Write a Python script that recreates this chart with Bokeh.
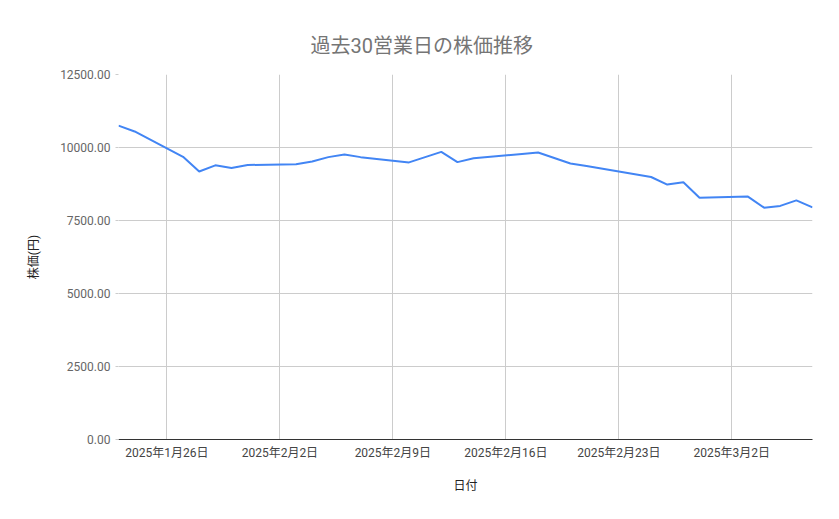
import pandas as pd
from bokeh.plotting import figure
from bokeh.models import Range1d, FixedTicker, CustomJSTickFormatter, NumeralTickFormatter
from bokeh.embed import file_html
from bokeh.resources import INLINE

# 過去30営業日の終値（祝日 2/11, 2/24 を除く）
dates = ["2025-01-23", "2025-01-24", "2025-01-27", "2025-01-28", "2025-01-29", "2025-01-30", "2025-01-31",
         "2025-02-03", "2025-02-04", "2025-02-05", "2025-02-06", "2025-02-07",
         "2025-02-10", "2025-02-12", "2025-02-13", "2025-02-14",
         "2025-02-17", "2025-02-18", "2025-02-19", "2025-02-20", "2025-02-21",
         "2025-02-25", "2025-02-26", "2025-02-27", "2025-02-28",
         "2025-03-03", "2025-03-04", "2025-03-05", "2025-03-06", "2025-03-07"]
prices = [10750, 10550, 9680, 9180, 9390, 9300, 9400,
          9430, 9520, 9670, 9760, 9670,
          9490, 9850, 9500, 9630,
          9780, 9830, 9640, 9450, 9370,
          8990, 8730, 8810, 8280,
          8320, 7940, 8000, 8190, 7950]

week_ticks = ["2025-01-26", "2025-02-02", "2025-02-09", "2025-02-16", "2025-02-23", "2025-03-02"]
y_ticks = [0, 2500, 5000, 7500, 10000, 12500]

FONT = "Roboto, 'Noto Sans CJK JP', sans-serif"
GRID = "#cccccc"

x = pd.to_datetime(dates)

p = figure(width=823, height=503, x_axis_type="datetime",
           x_range=Range1d(x[0], x[-1]), y_range=Range1d(0, 12500),
           toolbar_location=None, output_backend="svg",
           min_border_left=118, min_border_right=11, min_border_top=74, min_border_bottom=64)
p.outline_line_color = None

p.title.text = "過去30営業日の株価推移"
p.title.align = "left"
p.title.text_font = FONT
p.title.text_font_size = "20px"
p.title.text_font_style = "normal"
p.title.text_color = "#757575"
p.title.offset = 192
p.title.standoff = 33

p.line(x, prices, line_color="#4285F4", line_width=2)

# x axis
p.xaxis.ticker = FixedTicker(ticks=[pd.Timestamp(d).value / 1e6 for d in week_ticks])
p.xaxis.formatter = CustomJSTickFormatter(code="""
    const d = new Date(tick);
    return d.getUTCFullYear() + '年' + (d.getUTCMonth() + 1) + '月' + d.getUTCDate() + '日';
""")
p.xaxis.axis_label = "日付"
p.xaxis.axis_label_text_font = FONT
p.xaxis.axis_label_text_font_size = "12px"
p.xaxis.axis_label_text_font_style = "normal"
p.xaxis.axis_label_text_color = "#222222"
p.xaxis.axis_label_standoff = 16
p.xaxis.axis_line_color = "#333333"
p.xaxis.major_tick_line_color = None
p.xaxis.minor_tick_line_color = None
p.xaxis.major_label_text_font = FONT
p.xaxis.major_label_text_font_size = "12px"
p.xaxis.major_label_text_color = "#444444"
p.xaxis.major_label_standoff = 0

# y axis
p.yaxis.ticker = FixedTicker(ticks=y_ticks)
p.yaxis.formatter = NumeralTickFormatter(format="0.00")
p.yaxis.axis_label = "株価(円)"
p.yaxis.axis_label_text_font = FONT
p.yaxis.axis_label_text_font_size = "12px"
p.yaxis.axis_label_text_font_style = "normal"
p.yaxis.axis_label_text_color = "#222222"
p.yaxis.axis_label_standoff = 16
p.yaxis.axis_line_color = None
p.yaxis.major_tick_line_color = GRID
p.yaxis.major_tick_in = 0
p.yaxis.major_tick_out = 3
p.yaxis.minor_tick_line_color = None
p.yaxis.major_label_text_font = FONT
p.yaxis.major_label_text_font_size = "12px"
p.yaxis.major_label_text_color = "#666666"
p.yaxis.major_label_standoff = 5

p.xgrid.grid_line_color = GRID
p.ygrid.grid_line_color = GRID

open("out.html", "w").write(file_html(p, INLINE))
